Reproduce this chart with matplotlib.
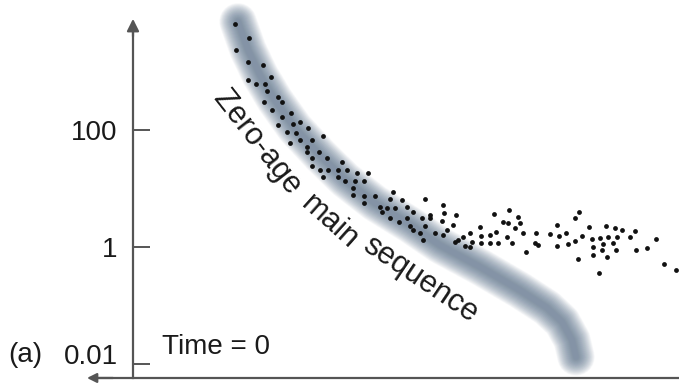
import numpy as np
import matplotlib
matplotlib.use("Agg")
import matplotlib.pyplot as plt

plt.rcParams['font.family'] = ['Liberation Sans', 'DejaVu Sans']

# ---- data (x: arbitrary colour/temperature units, log10 luminosity) ----
star_x = [
    1.02, 1.16, 1.03, 1.15, 1.30, 1.38, 1.15, 1.23, 1.32, 1.34, 1.45, 1.49, 1.31,
    1.39, 1.58, 1.49, 1.67, 1.60, 1.45, 1.75, 1.54, 1.63, 1.90, 1.67, 1.79, 1.57,
    1.74, 1.86, 1.74, 1.79, 1.94, 1.79, 1.87, 1.95, 2.05, 1.90, 2.05,
    2.09, 2.14, 2.24, 2.35, 2.12, 2.22, 2.31, 2.20, 2.20, 2.31, 2.42, 2.60, 2.57,
    2.69, 2.92, 2.31, 2.47, 2.54, 2.62, 2.74, 2.80, 2.97, 2.49, 2.57, 2.66, 2.74,
    2.89, 2.97, 2.77, 2.92, 2.80, 2.87, 2.90,
    3.10, 3.11, 3.23, 3.09, 3.20, 3.02, 3.14, 3.10, 3.37, 3.30, 3.22, 3.25, 3.39,
    3.32, 3.37, 3.47, 3.48, 3.57, 3.63, 3.48, 3.57, 3.65, 3.61, 3.76, 3.70, 3.75,
    3.85, 3.87, 3.82, 3.90, 3.74, 3.79, 3.93,
    4.46, 4.42, 4.24, 4.03, 4.17, 4.26, 4.33, 4.56, 4.73, 4.82, 4.89, 5.02, 4.49,
    4.59, 4.67, 4.75, 4.84, 4.97, 5.23, 4.02, 4.05, 4.24, 4.35, 4.42, 4.60, 4.70,
    4.80, 4.69, 4.83, 5.03, 5.14, 4.60, 4.74, 4.45, 4.66, 5.31, 5.43,
]
star_logL = [
    3.81, 3.57, 3.37, 3.16, 3.11, 2.91, 2.85, 2.79, 2.79, 2.67, 2.56, 2.48, 2.48,
    2.34, 2.29, 2.22, 2.14, 2.10, 2.09, 2.03, 1.97, 1.95, 1.90, 1.83, 1.83, 1.78,
    1.71, 1.62, 1.62, 1.52, 1.52, 1.38, 1.32, 1.32, 1.32, 1.20, 1.20,
    1.45, 1.32, 1.26, 1.26, 1.13, 1.13, 1.13, 1.01, 0.89, 0.87, 0.87, 0.94, 0.82,
    0.80, 0.82, 0.75, 0.68, 0.67, 0.67, 0.68, 0.60, 0.55, 0.60, 0.50, 0.43, 0.50,
    0.50, 0.50, 0.36, 0.36, 0.29, 0.24, 0.12,
    0.72, 0.58, 0.55, 0.44, 0.38, 0.24, 0.29, 0.21, 0.24, 0.17, 0.09, 0.12, 0.09,
    0.02, 0.00, 0.34, 0.19, 0.21, 0.26, 0.07, 0.07, 0.07, 0.56, 0.63, 0.43, 0.41,
    0.51, 0.41, 0.32, 0.24, 0.17, 0.07, -0.09,
    0.60, 0.50, 0.38, 0.24, 0.22, 0.19, 0.24, 0.34, 0.36, 0.32, 0.29, 0.27, 0.19,
    0.14, 0.15, 0.17, 0.17, 0.17, 0.14, 0.07, 0.03, 0.02, 0.05, 0.10, 0.00, 0.05,
    0.07, -0.05, -0.05, -0.05, -0.02, -0.14, -0.17, -0.21, -0.44, -0.29, -0.39,
]

zams_x = [1.05, 1.15, 1.27, 1.42, 1.62, 1.87, 2.12, 2.42, 2.77, 3.07, 3.47,
          3.87, 4.14, 4.29, 4.39, 4.43]
zams_logL = [3.85, 3.37, 2.94, 2.51, 2.03, 1.57, 1.15, 0.75, 0.38, 0.03, -0.34,
             -0.74, -1.04, -1.28, -1.59, -1.88]

tick_values = [0.01, 1, 100]
tick_labels = ['0.01', '1', '100']

label_words = ['Zero-age', 'main', 'sequence']
label_x = [1.24, 1.97, 2.87]
label_logL = [1.79, 0.43, -0.55]
label_rot = [-52, -42, -34]

# ---- figure ----
fig = plt.figure(figsize=(6.79, 3.85), dpi=100)
ax = fig.add_axes([0, 0, 1, 1])
ax.set_yscale('log')
ax.set_xlim(-1.33, 5.46)
ax.set_ylim(10 ** -2.359, 10 ** 4.222)

axis_col = '#555555'
y_bottom = 10 ** -2.239

# blurred zero-age main sequence band
zx = np.array(zams_x)
zL = 10 ** np.array(zams_logL)
for w in np.linspace(27, 4, 36):
    ax.plot(zx, zL, color='#5a718c', lw=w, alpha=0.03,
            solid_capstyle='round', solid_joinstyle='round', zorder=1)

# stars
ax.scatter(star_x, 10 ** np.array(star_logL), s=12, c='#111111',
           linewidths=0, zorder=3)

# axes / spines
for s in ['top', 'right']:
    ax.spines[s].set_visible(False)
ax.spines['left'].set_position(('data', 0))
ax.spines['left'].set_bounds(y_bottom, 10 ** 3.72)
ax.spines['bottom'].set_position(('data', y_bottom))
ax.spines['bottom'].set_bounds(-0.38, 5.46)
for s in ['left', 'bottom']:
    ax.spines[s].set_color(axis_col)
    ax.spines[s].set_linewidth(1.6)

ax.set_xticks([])
ax.yaxis.set_minor_locator(matplotlib.ticker.NullLocator())
ax.set_yticks(tick_values)
ax.set_yticklabels(tick_labels)
ax.tick_params(axis='y', direction='in', length=12, width=1.4, color=axis_col,
               pad=11, labelsize=20, labelcolor='#1a1a1a')
for lbl in ax.get_yticklabels():
    if lbl.get_text() == '0.01':
        lbl.set_va('baseline')

# arrow heads
ax.annotate('', xy=(0, 10 ** 3.9), xytext=(0, 10 ** 3.6),
            arrowprops=dict(arrowstyle='-|>', color=axis_col, lw=1.6,
                            mutation_scale=18, shrinkA=0, shrinkB=0), zorder=4)
ax.annotate('', xy=(-0.46, y_bottom), xytext=(-0.2, y_bottom),
            arrowprops=dict(arrowstyle='-|>', color=axis_col, lw=1.6,
                            mutation_scale=14, shrinkA=0, shrinkB=0), zorder=4)

# texts
for word, x, lg, rot in zip(label_words, label_x, label_logL, label_rot):
    ax.text(x, 10 ** lg, word, rotation=rot, rotation_mode='anchor',
            ha='center', va='center', fontsize=22, color='#1a1a1a', zorder=5)

ax.text(0.29, 10 ** -1.83, 'Time = 0', fontsize=20, ha='left', va='baseline',
        color='#1a1a1a')
ax.text(-1.25, 10 ** -1.97, '(a)', fontsize=20, ha='left', va='baseline',
        color='#1a1a1a')

fig.savefig('out.png', dpi=100)
